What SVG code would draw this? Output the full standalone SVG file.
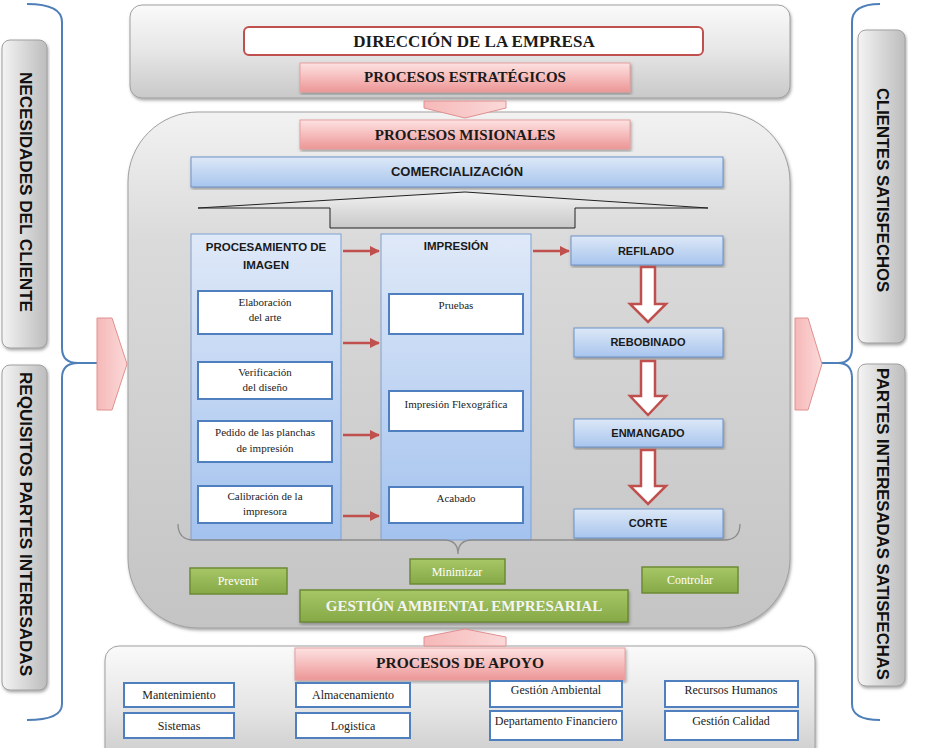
<svg xmlns="http://www.w3.org/2000/svg" width="928" height="748" viewBox="0 0 928 748">
<defs>
<linearGradient id="gGrayV" x1="0" y1="0" x2="0" y2="1"><stop offset="0" stop-color="#fafafa"/><stop offset="0.5" stop-color="#e6e6e6"/><stop offset="1" stop-color="#c9c9c9"/></linearGradient>
<linearGradient id="gGrayH" x1="0" y1="0" x2="1" y2="0"><stop offset="0" stop-color="#f4f4f4"/><stop offset="0.5" stop-color="#d8d8d8"/><stop offset="1" stop-color="#bdbdbd"/></linearGradient>
<linearGradient id="gMain" x1="0" y1="0" x2="0" y2="1"><stop offset="0" stop-color="#f2f2f2"/><stop offset="0.25" stop-color="#dadada"/><stop offset="1" stop-color="#c4c4c4"/></linearGradient>
<linearGradient id="gPink" x1="0" y1="0" x2="0" y2="1"><stop offset="0" stop-color="#fde2e2"/><stop offset="0.5" stop-color="#f6bcbc"/><stop offset="1" stop-color="#ec9696"/></linearGradient>
<linearGradient id="gPinkH" x1="0" y1="0" x2="1" y2="0"><stop offset="0" stop-color="#f6b8b8"/><stop offset="1" stop-color="#fbd9d9"/></linearGradient>
<linearGradient id="gBlue" x1="0" y1="0" x2="0" y2="1"><stop offset="0" stop-color="#dde8f7"/><stop offset="1" stop-color="#a8c5ee"/></linearGradient>
<linearGradient id="gBlueCol" x1="0" y1="0" x2="0" y2="1"><stop offset="0" stop-color="#dfe9f8"/><stop offset="1" stop-color="#a3c2ee"/></linearGradient>
<linearGradient id="gGreen" x1="0" y1="0" x2="0" y2="1"><stop offset="0" stop-color="#a7c766"/><stop offset="1" stop-color="#86a846"/></linearGradient>
<linearGradient id="gTri" x1="0" y1="0" x2="0" y2="1"><stop offset="0" stop-color="#f2f2f2"/><stop offset="1" stop-color="#c8c8c8"/></linearGradient>
<filter id="sh" x="-5%" y="-5%" width="110%" height="115%"><feDropShadow dx="1" dy="2" stdDeviation="1.5" flood-color="#555" flood-opacity="0.5"/></filter>
<marker id="ar" viewBox="0 0 10 10" refX="9" refY="5" markerWidth="4" markerHeight="4" orient="auto"><path d="M0,0 L10,5 L0,10 Z" fill="#c0504d"/></marker>
</defs>
<style>
.gray{stroke:#a0a0a0;stroke-width:1}
.pink{fill:url(#gPink);stroke:#e8a0a0;stroke-width:1}
.blue{fill:url(#gBlue);stroke:#6d93c7;stroke-width:1}
.col{fill:url(#gBlueCol);stroke:#7ea0d0;stroke-width:1}
.wbox{fill:#fff;stroke:#4f7fbf;stroke-width:2}
.green{fill:url(#gGreen);stroke:#6c8a35;stroke-width:1.5}
.serB{font-family:"Liberation Serif",serif;font-weight:bold;fill:#1a1a1a;text-anchor:middle}
.ser{font-family:"Liberation Serif",serif;font-size:11px;fill:#222;text-anchor:middle}
.serW{font-family:"Liberation Serif",serif;font-size:12px;fill:#fff;text-anchor:middle}
.sanB{font-family:"Liberation Sans",sans-serif;font-weight:bold;fill:#1a1a1a;text-anchor:middle}
.side{font-family:"Liberation Sans",sans-serif;font-weight:bold;font-size:17px;fill:#111;text-anchor:middle;dominant-baseline:central}
.brace{fill:none;stroke:#4f7fb8;stroke-width:2}
.conn{fill:none;stroke:#c0504d;stroke-width:2.5;marker-end:url(#ar)}
.blk{fill:#fff;stroke:#c0504d;stroke-width:2.5}
</style>

<!-- side labels -->
<g id="necesidades">
<rect x="2" y="40" width="45" height="308" rx="8" fill="url(#gGrayH)" class="gray" filter="url(#sh)"/>
<text class="side" transform="translate(25,192) rotate(90)" textLength="240" lengthAdjust="spacingAndGlyphs">NECESIDADES DEL CLIENTE</text>
</g>
<g id="requisitos">
<rect x="2" y="365" width="45" height="325" rx="8" fill="url(#gGrayH)" class="gray" filter="url(#sh)"/>
<text class="side" transform="translate(25,524) rotate(90)" textLength="304" lengthAdjust="spacingAndGlyphs">REQUISITOS PARTES INTERESADAS</text>
</g>
<g id="clientes">
<rect x="858" y="30" width="47" height="313" rx="8" fill="url(#gGrayH)" class="gray" filter="url(#sh)"/>
<text class="side" transform="translate(882,190) rotate(90)" textLength="204" lengthAdjust="spacingAndGlyphs">CLIENTES SATISFECHOS</text>
</g>
<g id="partes">
<rect x="858" y="364" width="47" height="322" rx="8" fill="url(#gGrayH)" class="gray" filter="url(#sh)"/>
<text class="side" transform="translate(882,524) rotate(90)" textLength="312" lengthAdjust="spacingAndGlyphs">PARTES INTERESADAS SATISFECHAS</text>
</g>

<!-- top -->
<g id="top">
<rect x="130" y="5" width="660" height="93" rx="12" fill="url(#gGrayV)" class="gray" filter="url(#sh)"/>
</g>
<g id="direccion">
<rect x="244" y="27" width="459" height="28" rx="5" fill="#fff" stroke="#c0504d" stroke-width="2"/>
<text class="serB" x="474" y="47" font-size="17">DIRECCIÓN DE LA EMPRESA</text>
</g>
<g id="estrategicos">
<rect x="300" y="63" width="330" height="29" class="pink" filter="url(#sh)"/>
<text class="serB" x="465" y="82" font-size="15">PROCESOS ESTRATÉGICOS</text>
</g>

<!-- main -->
<g id="main">
<rect x="128" y="112" width="662" height="516" rx="70" fill="url(#gMain)" class="gray" filter="url(#sh)"/>
</g>
<path d="M424,101 L506,101 L506,108 L465,118 L424,108 Z" fill="url(#gPinkH)" stroke="#e09090" stroke-width="1"/>
<g id="misionales">
<rect x="300" y="120" width="330" height="29" class="pink" filter="url(#sh)"/>
<text class="serB" x="465" y="140" font-size="15">PROCESOS MISIONALES</text>
</g>
<g id="comercializacion">
<rect x="191" y="157" width="532" height="30" class="blue" filter="url(#sh)"/>
<text class="sanB" x="457" y="176" font-size="13">COMERCIALIZACIÓN</text>
</g>
<path d="M198,208 L465,192 L708,208 L575,208 L575,228 L330,228 L330,208 Z" fill="url(#gTri)" stroke="#222" stroke-width="1"/>

<g id="procesamiento">
<rect x="191" y="234" width="150" height="306" class="col"/>
<text class="sanB" x="266" y="251" font-size="11.5">PROCESAMIENTO DE</text>
<text class="sanB" x="266" y="269" font-size="11.5">IMAGEN</text>
</g>
<g id="elaboracion"><rect x="198" y="291" width="134" height="43" class="wbox"/><text class="ser" x="265" y="306">Elaboración</text><text class="ser" x="265" y="321">del arte</text></g>
<g id="verificacion"><rect x="198" y="362" width="134" height="37" class="wbox"/><text class="ser" x="265" y="376">Verificación</text><text class="ser" x="265" y="391">del diseño</text></g>
<g id="pedido"><rect x="198" y="421" width="134" height="41" class="wbox"/><text class="ser" x="265" y="436">Pedido de las planchas</text><text class="ser" x="265" y="452">de impresión</text></g>
<g id="calibracion"><rect x="198" y="486" width="134" height="37" class="wbox"/><text class="ser" x="265" y="500">Calibración de la</text><text class="ser" x="265" y="515">impresora</text></g>

<g id="impresion">
<rect x="381" y="234" width="150" height="306" class="col"/>
<text class="sanB" x="456" y="250" font-size="11.5">IMPRESIÓN</text>
</g>
<g id="pruebas"><rect x="389" y="294" width="134" height="40" class="wbox"/><text class="ser" x="456" y="309">Pruebas</text></g>
<g id="flexo"><rect x="389" y="391" width="134" height="40" class="wbox"/><text class="ser" x="456" y="408">Impresión Flexográfica</text></g>
<g id="acabado"><rect x="389" y="487" width="134" height="36" class="wbox"/><text class="ser" x="456" y="502">Acabado</text></g>

<g id="refilado"><rect x="571" y="236" width="152" height="29" class="blue" filter="url(#sh)"/><text class="sanB" x="646" y="255" font-size="11">REFILADO</text></g>
<g id="rebobinado"><rect x="574" y="328" width="149" height="29" class="blue" filter="url(#sh)"/><text class="sanB" x="648" y="346" font-size="11">REBOBINADO</text></g>
<g id="enmangado"><rect x="574" y="419" width="149" height="28" class="blue" filter="url(#sh)"/><text class="sanB" x="648" y="437" font-size="11">ENMANGADO</text></g>
<g id="corte"><rect x="574" y="509" width="149" height="29" class="blue" filter="url(#sh)"/><text class="sanB" x="648" y="527" font-size="11">CORTE</text></g>

<g id="connectors">
<path class="conn" d="M343,251 L379,251"/>
<path class="conn" d="M343,343 L379,343"/>
<path class="conn" d="M343,435 L379,435"/>
<path class="conn" d="M343,516 L379,516"/>
<path class="conn" d="M533,251 L569,251"/>
<path class="blk" d="M641,267 L655,267 L655,304 L666,304 L648,322 L630,304 L641,304 Z"/>
<path class="blk" d="M641,361 L655,361 L655,396 L666,396 L648,415 L630,396 L641,396 Z"/>
<path class="blk" d="M641,450 L655,450 L655,486 L666,486 L648,504 L630,486 L641,486 Z"/>
<path class="brace" d="M27,4 Q62,4 62,22 L62,348 Q62,363 78,363 L97,363 M78,363 Q62,363 62,378 L62,704 Q62,720 27,720"/>
<path class="brace" d="M880,4 Q852,4 852,22 L852,348 Q852,363 838,363 L822,363 M838,363 Q852,363 852,378 L852,704 Q852,720 880,720"/>
<path d="M178,524 Q178,540 194,540 L444,540 Q458,540 458,554 Q458,540 472,540 L724,540 Q740,540 740,524" fill="none" stroke="#8c8c8c" stroke-width="1.3"/>
</g>

<g id="arrowL"><path d="M97,318 L112,318 L127,364 L112,410 L97,410 Z" fill="url(#gPinkH)" stroke="#e09090" stroke-width="1"/></g>
<g id="arrowR"><path d="M795,318 L808,318 L822,364 L808,410 L795,410 Z" fill="url(#gPinkH)" stroke="#e09090" stroke-width="1"/></g>

<g id="prevenir"><rect x="190" y="568" width="97" height="26" class="green"/><text class="serW" x="238" y="585">Prevenir</text></g>
<g id="minimizar"><rect x="410" y="559" width="95" height="25" class="green"/><text class="serW" x="457" y="576">Minimizar</text></g>
<g id="controlar"><rect x="642" y="567" width="96" height="26" class="green"/><text class="serW" x="690" y="584">Controlar</text></g>
<g id="gestion"><rect x="300" y="590" width="328" height="32" class="green" filter="url(#sh)"/><text class="serB" x="464" y="611" font-size="15" style="fill:#f4f4f4">GESTIÓN AMBIENTAL EMPRESARIAL</text></g>

<!-- bottom -->
<g id="apoyoBox">
<rect x="105" y="646" width="710" height="120" rx="14" fill="url(#gGrayV)" class="gray" filter="url(#sh)"/>
</g>
<path d="M424,637 L465,629 L506,637 L506,646 L424,646 Z" fill="url(#gPinkH)" stroke="#e09090" stroke-width="1"/>
<g id="apoyo">
<rect x="295" y="648" width="330" height="32" class="pink" filter="url(#sh)"/>
<text class="serB" x="460" y="668" font-size="15.5">PROCESOS DE APOYO</text>
</g>
<g id="mantenimiento"><rect x="124" y="683" width="110" height="24" class="wbox"/><text class="ser" style="font-size:12px" x="179" y="699">Mantenimiento</text></g>
<g id="sistemas"><rect x="124" y="713" width="110" height="25" class="wbox"/><text class="ser" style="font-size:12px" x="179" y="730">Sistemas</text></g>
<g id="almacenamiento"><rect x="296" y="683" width="114" height="24" class="wbox"/><text class="ser" style="font-size:12px" x="353" y="699">Almacenamiento</text></g>
<g id="logistica"><rect x="296" y="713" width="114" height="25" class="wbox"/><text class="ser" style="font-size:12px" x="353" y="730">Logistica</text></g>
<g id="gambiental"><rect x="490" y="681" width="132" height="26" class="wbox"/><text class="ser" style="font-size:12px" x="556" y="694">Gestión Ambiental</text></g>
<g id="financiero"><rect x="490" y="711" width="132" height="29" class="wbox"/><text class="ser" style="font-size:12px" x="556" y="725">Departamento Financiero</text></g>
<g id="rrhh"><rect x="665" y="681" width="133" height="26" class="wbox"/><text class="ser" style="font-size:12px" x="731" y="694">Recursos Humanos</text></g>
<g id="calidad"><rect x="665" y="711" width="133" height="29" class="wbox"/><text class="ser" style="font-size:12px" x="731" y="725">Gestión Calidad</text></g>
</svg>
